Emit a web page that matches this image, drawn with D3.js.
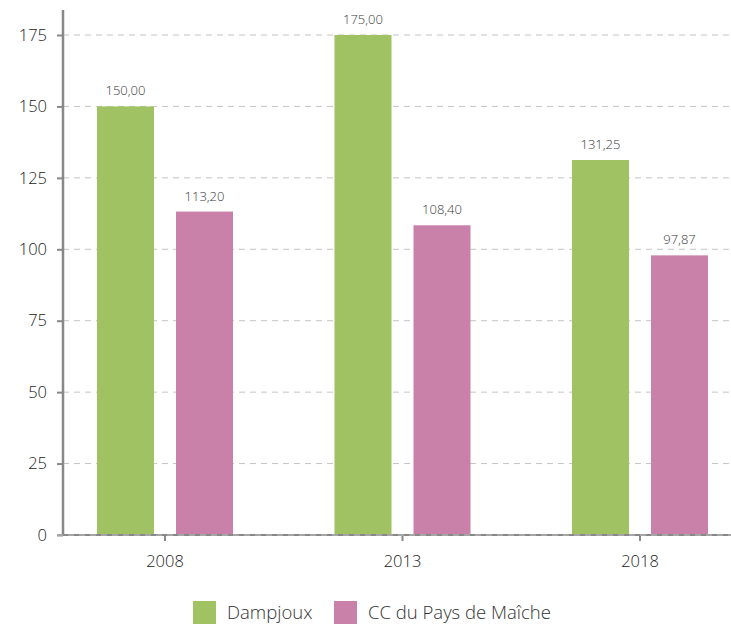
<!DOCTYPE html>
<html><head><meta charset="utf-8">
<script src="https://cdn.jsdelivr.net/npm/d3@7"></script>
<style>body{margin:0;background:#fff;}svg{display:block;font-family:"Open Sans",sans-serif;font-weight:300;}</style>
</head><body>
<svg id="c" width="731" height="626"></svg>
<script>
const categories = ["2008", "2013", "2018"];
const seriesNames = ["Dampjoux", "CC du Pays de Maîche"];
const dampjoux = [150.00, 175.00, 131.25];
const ccMaiche = [113.20, 108.40, 97.87];
const colors = ["#a0c262", "#c981a9"];
const yTicks = [0, 25, 50, 75, 100, 125, 150, 175];

const svg = d3.select("#c");
const y = d3.scaleLinear().domain([0, 175]).range([535, 35]);
const x = d3.scaleBand().domain(categories).range([46.25, 758.75]);
const inner = d3.scaleBand().domain([0, 1]).range([-68, 68]).paddingInner(0.2785);
const fmt = v => v.toFixed(2).replace(".", ",");

// grid
svg.append("g").selectAll("line").data(yTicks).join("line")
  .attr("x1", 63).attr("x2", 731).attr("y1", d => y(d)).attr("y2", d => y(d))
  .attr("stroke", "#c4c4c4").attr("stroke-width", 1).attr("stroke-dasharray", "6,5");

const series = [dampjoux, ccMaiche];
series.forEach((vals, s) => {
  const g = svg.append("g");
  g.selectAll("rect").data(vals).join("rect")
    .attr("x", (d, i) => x(categories[i]) + x.bandwidth() / 2 + inner(s))
    .attr("width", inner.bandwidth())
    .attr("y", d => y(d)).attr("height", d => y(0) - y(d))
    .attr("fill", colors[s]);
  g.selectAll("text").data(vals).join("text")
    .attr("x", (d, i) => x(categories[i]) + x.bandwidth() / 2 + inner(s) + inner.bandwidth() / 2)
    .attr("y", d => y(d) - 11)
    .attr("text-anchor", "middle").attr("font-size", 13).attr("fill", "#3a3a3a")
    .text(d => fmt(d));
});

// y axis
const yAxis = svg.append("g").attr("transform", "translate(63,0)")
  .call(d3.axisLeft(y).tickValues(yTicks).tickSize(6).tickPadding(10));
yAxis.select(".domain").remove();
yAxis.selectAll(".tick line").attr("stroke", "#888").attr("stroke-width", 2);
yAxis.selectAll(".tick text").attr("font-size", 16.5).attr("fill", "#222").attr("font-family", "Open Sans");
svg.append("line").attr("x1", 63).attr("x2", 63).attr("y1", 10).attr("y2", 536)
  .attr("stroke", "#888").attr("stroke-width", 2.5);

// x axis
const xAxis = svg.append("g").attr("transform", "translate(0,535)")
  .call(d3.axisBottom(x).tickSize(6).tickPadding(14));
xAxis.select(".domain").remove();
xAxis.selectAll(".tick line").attr("stroke", "#888").attr("stroke-width", 2);
xAxis.selectAll(".tick text").attr("font-size", 16.5).attr("fill", "#222").attr("font-family", "Open Sans");
svg.append("line").attr("x1", 57).attr("x2", 731).attr("y1", 535).attr("y2", 535)
  .attr("stroke", "#888").attr("stroke-width", 2);
svg.append("line").attr("x1", 57).attr("x2", 731).attr("y1", 535).attr("y2", 535)
  .attr("stroke", "#c4c4c4").attr("stroke-width", 1).attr("stroke-dasharray", "6,5");

// legend
const legendX = [193, 334];
const lg = svg.append("g");
seriesNames.forEach((n, i) => {
  lg.append("rect").attr("x", legendX[i]).attr("y", 601).attr("width", 23).attr("height", 23).attr("fill", colors[i]);
  lg.append("text").attr("x", legendX[i] + 34).attr("y", 619).attr("font-size", 18.5).attr("fill", "#333").text(n);
});
</script>
</body></html>
